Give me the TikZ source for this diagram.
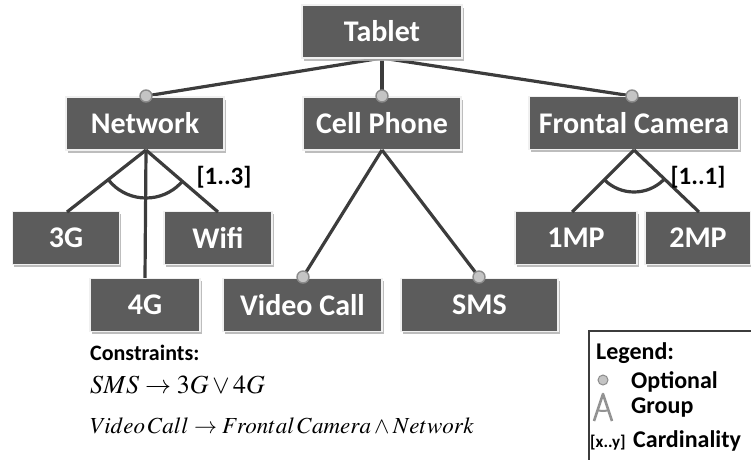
\documentclass[tikz,border=0pt]{standalone}
\usepackage{mathptmx}
\usepackage[no-math]{fontspec}
\setmainfont{Carlito}
\usetikzlibrary{shadows,calc}

\definecolor{boxgray}{HTML}{5C5C5C}
\definecolor{linegray}{HTML}{3C3C3C}
\definecolor{dotfill}{HTML}{C4C4C4}
\definecolor{dotline}{HTML}{8C8C8C}

\tikzset{
  feature/.style={draw=gray!12, line width=1.4pt, fill=boxgray, text=white,
    font=\fontsize{30}{34}\selectfont\bfseries, inner sep=0pt,
    minimum height=53pt,
    drop shadow={shadow xshift=1.5pt, shadow yshift=-2.5pt, fill=gray!60, opacity=0.85}},
  link/.style={draw=linegray, line width=3.2pt},
  optdot/.style={circle, fill=dotfill, draw=dotline, line width=1.4pt, minimum size=12pt, inner sep=0pt},
  cardlabel/.style={font=\fontsize{25}{29}\selectfont\bfseries, text=black, inner sep=0pt},
  legendtext/.style={font=\fontsize{24}{28}\selectfont\bfseries, text=black, inner sep=0pt, anchor=base west},
  mathline/.style={text=black, inner sep=0pt, anchor=base west}
}

\begin{document}
\begin{tikzpicture}[x=1pt, y=-1pt]
  \useasboundingbox (0,0) rectangle (751,459);

  % connectors from the root (drawn first so boxes sit on top)
  \coordinate (tabletS) at (382,58);
  \coordinate (netN) at (146,96);
  \coordinate (cellN) at (382,96);
  \coordinate (camN) at (632,96);
  \draw[link] (tabletS) -- (netN);
  \draw[link] (tabletS) -- (cellN);
  \draw[link] (tabletS) -- (camN);

  % feature boxes
  \node[feature, minimum width=160pt] (tablet) at (382,31.5) {Tablet};
  \node[feature, minimum width=158pt] (network) at (145,123.5) {Network};
  \node[feature, minimum width=158pt] (cell) at (382,123.5) {Cell Phone};
  \node[feature, minimum width=210pt] (camera) at (634,123) {Frontal Camera};

  \node[feature, minimum width=107pt] (g3) at (66,238) {3G};
  \node[feature, minimum width=108pt] (wifi) at (218,238) {Wifi};
  \node[feature, minimum width=110pt] (g4) at (145,305) {4G};
  \node[feature, minimum width=159pt] (video) at (302.5,305) {Video Call};
  \node[feature, minimum width=157pt] (sms) at (479.5,305) {SMS};
  \node[feature, minimum width=122pt] (mp1) at (576,238) {1MP};
  \node[feature, minimum width=106pt] (mp2) at (698,238) {2MP};

  % Network group [1..3]
  \coordinate (netS) at (146,150);
  \coordinate (g3N) at (67,212);
  \coordinate (wifiN) at (218,212);
  \draw[link] (netS) -- (g3N);
  \draw[link] (netS) -- (wifiN);
  \draw[link] (netS) -- (g4.north);
  \begin{scope}
    \clip (netS) -- ($(netS)!3!(g3N)$) -- ($(netS)!3!(wifiN)$) -- cycle;
    \draw[linegray, line width=3.2pt] (netS) circle[radius=48pt];
  \end{scope}
  \node[cardlabel] (card13) at (224,177) {[1..3]};

  % Frontal Camera group [1..1]
  \coordinate (camS) at (634,150);
  \coordinate (mp1N) at (572,212);
  \coordinate (mp2N) at (699,212);
  \draw[link] (camS) -- (mp1N);
  \draw[link] (camS) -- (mp2N);
  \begin{scope}
    \clip (camS) -- ($(camS)!3!(mp1N)$) -- ($(camS)!3!(mp2N)$) -- cycle;
    \draw[linegray, line width=3.2pt] (camS) circle[radius=42pt];
  \end{scope}
  \node[cardlabel] (card11) at (698,177) {[1..1]};

  % Cell Phone optional children
  \coordinate (cellS) at (382,150);
  \coordinate (videoN) at (303,277);
  \coordinate (smsN) at (479,277);
  \draw[link] (cellS) -- (videoN);
  \draw[link] (cellS) -- (smsN);

  % optional markers
  \node[optdot] (o1) at (netN) {};
  \node[optdot] (o2) at (cellN) {};
  \node[optdot] (o3) at (camN) {};
  \node[optdot] (o4) at (videoN) {};
  \node[optdot] (o5) at (smsN) {};

  % constraints
  \node[legendtext, font=\fontsize{22}{26}\selectfont\bfseries] (ctitle) at (90,360) {Constraints:};
  \node[mathline, font=\fontsize{26}{30}\selectfont] (c1) at (90,393) {$SMS \rightarrow 3G \vee 4G$};
  \node[mathline, font=\fontsize{23}{27}\selectfont] (c2) at (90,433) {$Video\,Call \rightarrow Frontal\,Camera \wedge Network$};

  % legend
  \draw[draw=linegray, line width=1.6pt] (589,331) rectangle (770,480);
  \node[legendtext] (ltitle) at (596,359) {Legend:};
  \node[optdot, minimum size=10pt, line width=1pt] (ldot) at (603,380) {};
  \node[legendtext] (lopt) at (631,388) {Optional};
  \coordinate (lapex) at (603,394);
  \coordinate (lleft) at (594,421);
  \coordinate (lright) at (612,421);
  \draw[gray!85, line width=2.6pt, line join=round] (lleft) -- (lapex) -- (lright);
  \begin{scope}
    \clip (lapex) -- ($(lapex)!3!(lleft)$) -- ($(lapex)!3!(lright)$) -- cycle;
    \draw[gray!85, line width=2pt] (lapex) circle[radius=17pt];
  \end{scope}
  \node[legendtext] (lgroup) at (631,413) {Group};
  \node[legendtext, font=\fontsize{17}{20}\selectfont\bfseries] (lxy) at (590,447) {[x..y]};
  \node[legendtext] (lcard) at (633,447) {Cardinality};
\end{tikzpicture}
\end{document}
